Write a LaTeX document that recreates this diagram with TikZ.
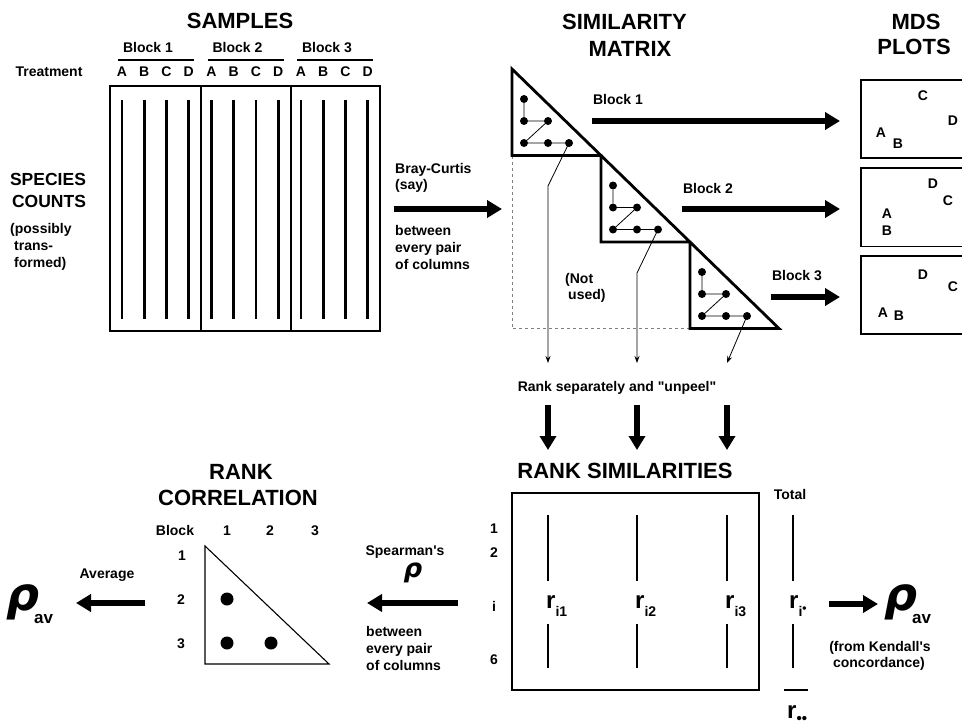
\documentclass[tikz,border=0pt]{standalone}
\usepackage{fontspec}
\setmainfont{Liberation Sans}
\newfontfamily\rhofont{DejaVu Sans}
\usetikzlibrary{arrows.meta}
\newcommand\fsz[1]{\fontsize{#1}{#1}\selectfont}
\newcommand\rhobig[1]{{\rhofont\fsz{#1}\bfseries\itshape ρ}}
% rho with the subscript "av" tucked under its bowl
\newcommand\rhoav{\rhobig{46}\kern-5pt\raisebox{-13pt}{\bfseries\fsz{17}av}}

\begin{document}
\begin{tikzpicture}[x=1pt,y=-1pt,
  lbl/.style={inner sep=0pt, font=\bfseries\fsz{14}, anchor=base},
  lblw/.style={lbl, anchor=base west},
  heading/.style={inner sep=0pt, font=\bfseries\fsz{22}, anchor=base},
  bigarrow/.style={line width=6pt, -{Triangle[length=15pt,width=17pt]}},
  downarrow/.style={line width=5.5pt, -{Triangle[length=14pt,width=16pt]}},
  column/.style={line width=2.8pt},
  thinbox/.style={line width=1.1pt},
  stairs/.style={line width=2.8pt, line join=miter},
  smdot/.style={circle, fill, inner sep=0pt, minimum size=8pt},
  bigdot/.style={circle, fill, inner sep=0pt, minimum size=13pt},
  link/.style={line width=0.8pt},
  pointer/.style={line width=0.8pt, -{Stealth[length=7pt,width=5pt]}},
  rlabel/.style={inner sep=0pt, anchor=base west, font=\bfseries}
]
\useasboundingbox (0,0) rectangle (962,725);

% ---------------- SAMPLES ----------------
\node[heading] (samples) at (240,29) {SAMPLES};
\node[lbl] (treat) at (49,77) {Treatment};
\foreach \b/\bx in {1/0,2/89.5,3/179} {
  \node[lbl] (blk\b) at ({148+\bx},53) {Block \b};
  \draw[line width=1.2pt] ({118+\bx},60) -- ({194+\bx},60);
  \foreach \t/\tx in {A/0,B/22.2,C/44.4,D/66.6} {
    \node[lbl] (tr\b\t) at ({122+\bx+\tx},77) {\t};
    \draw[column] ({122+\bx+\tx},100) -- ({122+\bx+\tx},319);
  }
}
\draw[thinbox] (110,86) rectangle (380,331);
\draw[thinbox] (201,86) -- (201,331);
\draw[thinbox] (291,86) -- (291,331);

\node[inner sep=0pt, font=\bfseries\fsz{17.5}, anchor=base] (species) at (48,185) {SPECIES};
\node[inner sep=0pt, font=\bfseries\fsz{17.5}, anchor=base] (counts) at (49,207) {COUNTS};
\node[lblw] (poss) at (10,233) {(possibly};
\node[lblw] (trans) at (14,250) {trans-};
\node[lblw] (formed) at (14,267) {formed)};

% ---------------- Bray-Curtis ----------------
\node[lblw] (bc1) at (395,173) {Bray-Curtis};
\node[lblw] (bc2) at (395,189) {(say)};
\coordinate (bcs) at (394,209);
\coordinate (bce) at (502,209);
\draw[bigarrow] (bcs) -- (bce);
\node[lblw] (bw1) at (395,235) {between};
\node[lblw] (bw2) at (395,252) {every pair};
\node[lblw] (bw3) at (395,269) {of columns};

% ---------------- SIMILARITY MATRIX ----------------
\node[heading] (sim1) at (624.5,30) {SIMILARITY};
\node[heading] (sim2) at (630,57) {MATRIX};

\draw[dashed, gray, line width=0.9pt] (512,155.5) -- (512,328.5) -- (690,328.5);
\draw[stairs] (512,69) -- (779,328.5) -- (690,328.5) -- (690,242) -- (601,242)
  -- (601,155.5) -- (512,155.5) -- cycle;

\foreach \k/\ox/\oy in {1/0/0,2/89/86.5,3/178/173} {
  \begin{scope}[shift={(\ox,\oy)}]
    \node[smdot] (a\k) at (524,99) {};
    \node[smdot] (b\k) at (524,121) {};
    \node[smdot] (c\k) at (548,121) {};
    \node[smdot] (d\k) at (524,143) {};
    \node[smdot] (e\k) at (548,143) {};
    \node[smdot] (f\k) at (569,143) {};
    \draw[link] (a\k) -- (b\k) -- (c\k) -- (d\k) -- (e\k) -- (f\k);
  \end{scope}
}
\coordinate (k1) at (548,186);
\coordinate (k2) at (637,273);
\coordinate (t1) at (548,363);
\coordinate (t2) at (637,363);
\coordinate (t3) at (727,363);
\draw[pointer] (f1.center) -- (k1) -- (t1);
\draw[pointer] (f2.center) -- (k2) -- (t2);
\draw[pointer] (f3.center) -- (t3);

\node[lblw] (nu1) at (565,283) {(Not};
\node[lblw] (nu2) at (568,299) {used)};

% ---------------- block arrows and MDS ----------------
\node[lbl] (ba1) at (618,105) {Block 1};
\node[lbl] (ba2) at (708,193) {Block 2};
\node[lbl] (ba3) at (797,280) {Block 3};
\coordinate (s1) at (592,121);  \coordinate (e1) at (840,121);
\coordinate (s2) at (682,209);  \coordinate (e2) at (840,209);
\coordinate (s3) at (771,297);  \coordinate (e3) at (840,297);
\draw[bigarrow] (s1) -- (e1);
\draw[bigarrow] (s2) -- (e2);
\draw[bigarrow] (s3) -- (e3);

\node[heading] (mds1) at (916,30) {MDS};
\node[heading] (mds2) at (914,55) {PLOTS};
\draw[thinbox] (861,80) rectangle (990,158);
\draw[thinbox] (861,168) rectangle (990,246.5);
\draw[thinbox] (861,256) rectangle (990,334);
\node[lbl] (p1c) at (923,100) {C};
\node[lbl] (p1d) at (953,125) {D};
\node[lbl] (p1a) at (881,138) {A};
\node[lbl] (p1b) at (898,148) {B};
\node[lbl] (p2d) at (933,188) {D};
\node[lbl] (p2c) at (948,205) {C};
\node[lbl] (p2a) at (887,218) {A};
\node[lbl] (p2b) at (887,235) {B};
\node[lbl] (p3d) at (923,279) {D};
\node[lbl] (p3c) at (953,291) {C};
\node[lbl] (p3a) at (883,317) {A};
\node[lbl] (p3b) at (899,320) {B};

% ---------------- ranking ----------------
\node[lbl] (unpeel) at (617,391) {Rank separately and \textquotedbl unpeel\textquotedbl};
\foreach \x [count=\n] in {548,637,727} {
  \coordinate (ds\n) at (\x,405);
  \coordinate (de\n) at (\x,450);
  \draw[downarrow] (ds\n) -- (de\n);
}
\node[heading] (ranksim) at (625,478) {RANK SIMILARITIES};
\draw[thinbox] (512,493) rectangle (759,690);
\foreach \x [count=\n] in {548,637,727} {
  \draw[column] (\x,515) -- (\x,581);
  \draw[column] (\x,624) -- (\x,668);
  \node[rlabel] (r\n) at ({\x-2},608) {\fsz{24}r\raisebox{-8pt}{\fsz{14}i\n}};
}
\node[lbl] (row1) at (494,533) {1};
\node[lbl] (row2) at (494,557) {2};
\node[lbl] (rowi) at (494,611) {i};
\node[lbl] (row6) at (494,664) {6};

\node[lbl] (total) at (790,499) {Total};
\draw[line width=1.5pt] (793,515) -- (793,581);
\draw[line width=1.5pt] (793,624) -- (793,668);
\node[rlabel] (rdot) at (789,608) {\fsz{24}r\raisebox{-8pt}{\fsz{14}i\raisebox{4pt}{\fsz{12}•}}};
\draw[line width=1.4pt] (784,690) -- (808,690);
\node[rlabel] (rdd) at (787,718) {\fsz{24}r\raisebox{-5pt}{\fsz{15}••}};

\coordinate (kas) at (829,604);
\coordinate (kae) at (878,604);
\draw[bigarrow] (kas) -- (kae);
\node[inner sep=0pt, anchor=base west] (rhoK) at (884,610) {\rhoav};
\node[lbl] (ken1) at (880,651) {(from Kendall\textquotesingle s};
\node[lbl] (ken2) at (879,667) {concordance)};

% ---------------- Spearman ----------------
\node[lbl] (spear) at (405,555) {Spearman\textquotesingle s};
\node[inner sep=0pt, anchor=base] (rhoS) at (413,577) {\rhobig{26}};
\coordinate (sps) at (458,603);
\coordinate (spe) at (367,603);
\draw[bigarrow] (sps) -- (spe);
\node[lblw] (sw1) at (366,636) {between};
\node[lblw] (sw2) at (366,653) {every pair};
\node[lblw] (sw3) at (366,670) {of columns};

% ---------------- RANK CORRELATION ----------------
\node[heading] (rc1) at (241,479) {RANK};
\node[heading] (rc2) at (238,505) {CORRELATION};
\node[lbl] (cblock) at (175,535) {Block};
\node[lbl] (cc1) at (227,535) {1};
\node[lbl] (cc2) at (270,535) {2};
\node[lbl] (cc3) at (315,535) {3};
\node[lbl] (cr1) at (182,560) {1};
\node[lbl] (cr2) at (181,604) {2};
\node[lbl] (cr3) at (181,648) {3};
\draw[line width=1.1pt, line join=miter] (205,546) -- (205,664) -- (329,664) -- cycle;
\node[bigdot] (q21) at (227,599) {};
\node[bigdot] (q31) at (227,643) {};
\node[bigdot] (q32) at (271,643) {};

\node[lbl] (avg) at (107,578) {Average};
\coordinate (avs) at (145,603);
\coordinate (ave) at (76,603);
\draw[bigarrow] (avs) -- (ave);
\node[inner sep=0pt, anchor=base west] (rhoA) at (6,610) {\rhoav};
\end{tikzpicture}
\end{document}
